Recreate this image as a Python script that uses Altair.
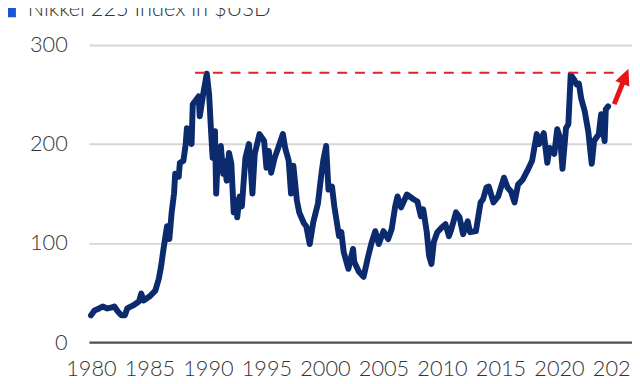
import altair as alt
import pandas as pd

# Nikkei 225 index in USD
years = [1980.0, 1980.3, 1980.7, 1981.0, 1981.4, 1981.8, 1982.0, 1982.3, 1982.6, 1982.9,
         1983.1, 1983.6, 1984.1, 1984.3, 1984.5, 1985.0, 1985.5, 1985.8, 1986.0, 1986.2,
         1986.5, 1986.7, 1986.9, 1987.1, 1987.2, 1987.5, 1987.6, 1987.9, 1988.1, 1988.2,
         1988.5, 1988.6, 1988.7, 1989.2, 1989.3, 1989.6, 1989.9, 1990.1, 1990.25, 1990.4,
         1990.6, 1990.7, 1990.8, 1991.1, 1991.3, 1991.4, 1991.6, 1991.8, 1992.0, 1992.2,
         1992.4, 1992.5, 1992.7, 1992.9, 1993.2, 1993.5, 1993.6, 1993.8, 1994.0, 1994.4,
         1994.8, 1995.0, 1995.2, 1995.4, 1995.7, 1996.0, 1996.4, 1996.6, 1996.9, 1997.1,
         1997.3, 1997.6, 1997.8, 1998.2, 1998.4, 1998.7, 1999.0, 1999.4, 1999.7, 1999.85,
         2000.1, 2000.3, 2000.6, 2000.8, 2001.2, 2001.4, 2001.6, 2002.0, 2002.4, 2002.5,
         2002.9, 2003.3, 2003.7, 2004.0, 2004.3, 2004.6, 2005.0, 2005.4, 2005.7, 2006.0,
         2006.2, 2006.5, 2007.0, 2007.6, 2007.9, 2008.2, 2008.4, 2008.7, 2008.9, 2009.1,
         2009.3, 2009.6, 2010.0, 2010.3, 2010.6, 2010.8, 2011.2, 2011.5, 2011.8, 2012.2,
         2012.4, 2012.9, 2013.3, 2013.5, 2013.8, 2014.0, 2014.4, 2014.8, 2015.3, 2015.6,
         2015.9, 2016.2, 2016.5, 2016.9, 2017.3, 2017.7, 2018.1, 2018.3, 2018.7, 2019.0,
         2019.2, 2019.6, 2019.85, 2020.1, 2020.3, 2020.6, 2020.8, 2021.0, 2021.3, 2021.5,
         2021.7, 2021.9, 2022.2, 2022.5, 2022.8, 2023.0, 2023.4, 2023.6, 2023.9, 2024.0,
         2024.2]
values = [27, 32, 34, 36, 34, 35, 36, 31, 27, 27,
          34, 37, 41, 49, 42, 46, 52, 64, 77, 94,
          117, 104, 131, 150, 170, 167, 181, 183, 200, 216,
          213, 200, 240, 248, 228, 251, 271, 250, 216, 186,
          213, 150, 176, 198, 170, 183, 163, 191, 180, 131,
          143, 126, 147, 137, 186, 200, 186, 150, 190, 210,
          203, 176, 193, 171, 186, 196, 210, 196, 183, 150,
          178, 143, 131, 120, 117, 99, 121, 140, 170, 183,
          198, 154, 157, 137, 107, 111, 91, 74, 94, 81,
          71, 66, 87, 101, 112, 99, 112, 104, 114, 137,
          147, 136, 149, 144, 142, 127, 134, 111, 87, 79,
          101, 111, 116, 119, 107, 114, 131, 126, 109, 122,
          111, 112, 141, 144, 156, 157, 141, 147, 166, 156,
          152, 141, 159, 164, 173, 183, 210, 200, 211, 181,
          196, 190, 215, 206, 175, 216, 220, 270, 265, 260,
          261, 246, 233, 213, 180, 203, 210, 230, 203, 235,
          238]

x_ticks = [1980, 1985, 1990, 1995, 2000, 2005, 2010, 2015, 2020, 2025]
y_ticks = [0, 100, 200, 300]

peak_level = 272
dash_years = [1988.9, 2024.9]
arrow_tail = [2024.72, 240.3]
arrow_head = [2025.59, 265.9]

title_text = "Nikkei 225 Index in $USD"

FONT = "Lato"

df = pd.DataFrame({"year": years, "value": values})
dash_df = pd.DataFrame({"year": dash_years, "value": [peak_level, peak_level]})
arrow_df = pd.DataFrame({"x": [arrow_tail[0]], "y": [arrow_tail[1]],
                         "x2": [arrow_head[0]], "y2": [arrow_head[1]]})
head_df = pd.DataFrame({"x": [arrow_head[0]], "y": [arrow_head[1]]})

xscale = alt.Scale(domain=[1979.83, 2026.24], nice=False, zero=False)
yscale = alt.Scale(domain=[0, 300], nice=False)

xaxis = alt.Axis(values=x_ticks, format="d", title=None, grid=False, ticks=False,
                 domain=True, domainColor="#555555", domainWidth=2.5,
                 labelFont=FONT, labelFontSize=22, labelFontWeight=300,
                 labelColor="#333333", labelPadding=17, labelFlush=False)
yaxis = alt.Axis(values=y_ticks, title=None, grid=True, gridColor="#d6d6d6",
                 gridWidth=2, ticks=False, domain=False,
                 labelFont=FONT, labelFontSize=22, labelFontWeight=300,
                 labelColor="#333333", labelPadding=22)

line = alt.Chart(df).mark_line(color="#0c2a6e", strokeWidth=6, strokeJoin="round",
                               strokeCap="round").encode(
    x=alt.X("year:Q", scale=xscale, axis=xaxis),
    y=alt.Y("value:Q", scale=yscale, axis=yaxis),
)

dash = alt.Chart(dash_df).mark_line(color="#d92626", strokeWidth=2,
                                    strokeDash=[10, 8]).encode(
    x=alt.X("year:Q", scale=xscale),
    y=alt.Y("value:Q", scale=yscale),
)

shaft = alt.Chart(arrow_df).mark_rule(color="#e8141c", strokeWidth=5).encode(
    x=alt.X("x:Q", scale=xscale), y=alt.Y("y:Q", scale=yscale),
    x2="x2:Q", y2="y2:Q",
)

head = alt.Chart(head_df).mark_point(
    shape="M0,-1L0.7,0.5L-0.7,0.5Z", filled=True, color="#e8141c",
    opacity=1, size=480, angle=22).encode(
    x=alt.X("x:Q", scale=xscale), y=alt.Y("y:Q", scale=yscale),
)

title = alt.Chart(pd.DataFrame({"t": [title_text]})).mark_text(
    align="left", baseline="alphabetic", font=FONT, fontSize=22, fontWeight=300,
    color="#333333").encode(
    text="t:N", x=alt.value(-62), y=alt.value(-29),
)

square = alt.Chart(pd.DataFrame({"t": [1]})).mark_rect(color="#1a56d6").encode(
    x=alt.value(-86), x2=alt.value(-74), y=alt.value(-40), y2=alt.value(-28),
)

chart = alt.layer(line, dash, shaft, head, title, square).properties(
    width=550, height=301,
    autosize=alt.AutoSizeParams(type="none"),
    padding={"left": 82, "top": 35, "right": 0, "bottom": 40},
).configure_view(stroke=None)

chart.save("out.html", embed_options={"renderer": "svg", "actions": False})
